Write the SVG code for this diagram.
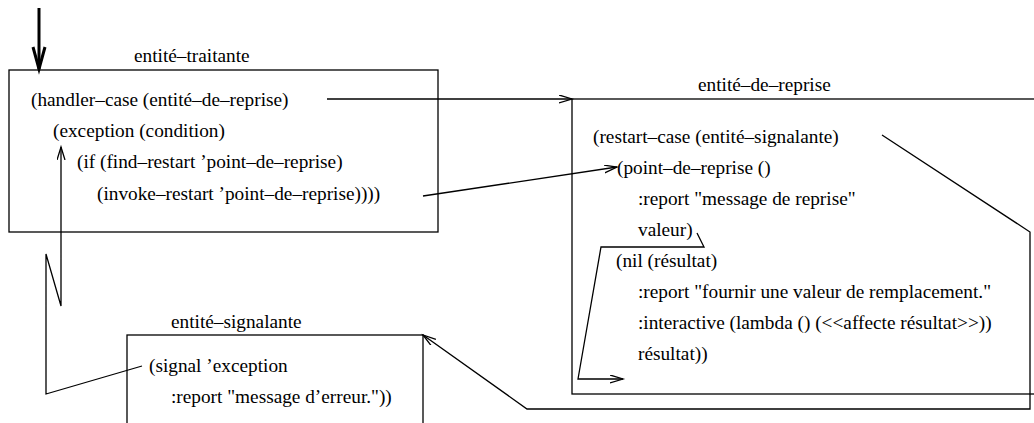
<svg xmlns="http://www.w3.org/2000/svg" width="1034" height="423" viewBox="0 0 1034 423">
<style>
  .t { font-family: 'Liberation Serif', serif; font-size: 19.3px; fill: #000; }
  .box { fill: none; stroke: #000; stroke-width: 1.3; }
  .conn { fill: none; stroke: #000; stroke-width: 1.3; stroke-linejoin: miter; }
</style>
<defs>
  <marker id="open" markerUnits="userSpaceOnUse" markerWidth="16" markerHeight="10" refX="13" refY="4" orient="auto">
    <path d="M0,0 L13,4 L0,8" fill="none" stroke="#000" stroke-width="1.3"/>
  </marker>
</defs>
<rect width="1034" height="423" fill="#fff"/>

<g id="entite-traitante" class="t" font-family="Liberation Serif, serif">
  <rect class="box" x="9" y="70" width="429" height="162"/>
  <text x="134" y="62">entité–traitante</text>
  <text x="31" y="106">(handler–case (entité–de–reprise)</text>
  <text x="53" y="137">(exception (condition)</text>
  <text x="77" y="168">(if (find–restart ’point–de–reprise)</text>
  <text x="97" y="199.5">(invoke–restart ’point–de–reprise))))</text>
</g>

<g id="entite-de-reprise" class="t" font-family="Liberation Serif, serif">
  <rect class="box" x="572" y="99" width="500" height="295"/>
  <text x="698" y="91">entité–de–reprise</text>
  <text x="593" y="142.5">(restart–case (entité–signalante)</text>
  <text x="617" y="173.5">(point–de–reprise ()</text>
  <text x="638" y="204.5">:report "message de reprise"</text>
  <text x="638" y="235.5">valeur)</text>
  <text x="616" y="267">(nil (résultat)</text>
  <text x="638" y="298">:report "fournir une valeur de remplacement."</text>
  <text x="638" y="329">:interactive (lambda () (&lt;&lt;affecte résultat&gt;&gt;))</text>
  <text x="638" y="360">résultat))</text>
</g>

<g id="entite-signalante" class="t" font-family="Liberation Serif, serif">
  <rect class="box" x="127" y="335" width="296" height="110"/>
  <text x="171" y="328">entité–signalante</text>
  <text x="149" y="371.5">(signal ’exception</text>
  <text x="171" y="403">:report "message d’erreur."))</text>
</g>

<g id="connectors">
  <line x1="39" y1="8" x2="39" y2="69" stroke="#000" stroke-width="3"/>
  <path d="M33,47 L39,69 L45,47" fill="none" stroke="#000" stroke-width="3"/>
  <path class="conn" d="M327,99 L572,99" marker-end="url(#open)"/>
  <path class="conn" d="M423,196 L617,167" marker-end="url(#open)"/>
  <path class="conn" d="M882,135 L1030,232 L1030,409 L527,409 L423,335" marker-end="url(#open)"/>
  <path class="conn" d="M697,233 L704,247 L601,247 L578,379 L623,379" marker-end="url(#open)"/>
  <path class="conn" d="M142,366 L46,394 L46,254 L61,306 L61,147" marker-end="url(#open)"/>
</g>
</svg>
